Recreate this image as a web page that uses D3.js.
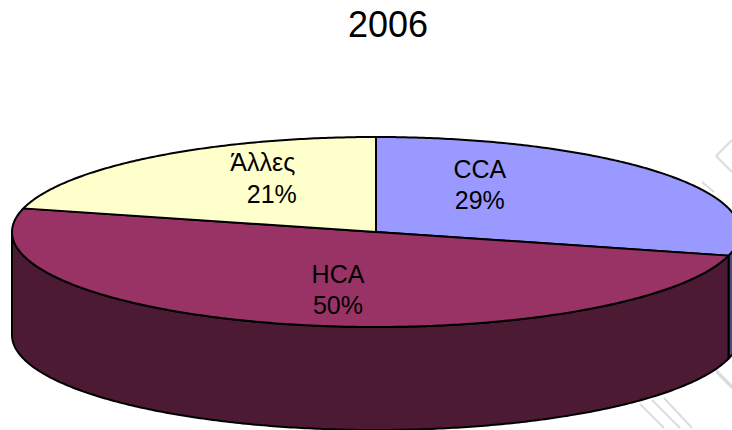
<!DOCTYPE html>
<html>
<head>
<meta charset="utf-8">
<script src="https://cdn.jsdelivr.net/npm/d3@7"></script>
<style>
  body { margin: 0; background: #fff; }
  svg { display: block; font-family: "Liberation Sans", Arial, sans-serif; }
</style>
</head>
<body>
<svg id="chart" width="732" height="430"></svg>
<script>
// Data
var title = "2006";
var categories = ["CCA", "HCA", "Άλλες"];
var values = [29, 50, 21];
var topColors = ["#9999FF", "#993366", "#FFFFCC"];
var sideColors = ["#4D4D80", "#4D1A33", "#80805F"];

// Layout
var W = 732, H = 430;
var cx = 376, cy = 232, rx = 364, ry = 95, depth = 103;
// small per-label nudges (px) so labels sit where the original put them
var labelNudge = [[-17, -10], [0, -13], [-15, -4]];
// extra x shift of the percent line (the original offsets it under "Άλλες")
var pctShift = [0, 0, 9];

var svg = d3.select("#chart");

// faint watermark strokes on the right
var wm = svg.append("g").attr("class", "watermark")
  .attr("stroke", "#dcdcdc").attr("stroke-width", 2).attr("fill", "none");
[[716, 156, 732, 140], [716, 156, 732, 172], [702, 182, 714, 192], [708, 362, 732, 386],
 [716, 372, 732, 388], [640, 404, 664, 428], [652, 400, 680, 428], [664, 398, 692, 428]].forEach(function (l) {
  wm.append("line").attr("x1", l[0]).attr("y1", l[1]).attr("x2", l[2]).attr("y2", l[3]);
});

// Title
svg.append("text")
  .attr("x", 388).attr("y", 37)
  .attr("text-anchor", "middle")
  .attr("font-size", 36)
  .attr("fill", "#000")
  .text(title);

// Pie angles (0 = 12 o'clock, clockwise)
var pie = d3.pie().sort(null).startAngle(0).endAngle(2 * Math.PI);
var arcs = pie(values);

var px = function (a) { return cx + rx * Math.sin(a); };
var py = function (a, dy) { return cy - ry * Math.cos(a) + (dy || 0); };

var steps = function (a0, a1) {
  var n = Math.max(2, Math.ceil(Math.abs(a1 - a0) / 0.01));
  return d3.range(n + 1).map(function (i) { return a0 + (a1 - a0) * i / n; });
};

// Side walls (only the front half, PI/2 .. 3PI/2)
var sides = svg.append("g").attr("class", "sides");
arcs.forEach(function (d, i) {
  var a0 = Math.max(d.startAngle, Math.PI / 2);
  var a1 = Math.min(d.endAngle, 3 * Math.PI / 2);
  if (a1 <= a0) return;
  var p = d3.path();
  var top = steps(a0, a1);
  p.moveTo(px(a0), py(a0));
  top.forEach(function (a) { p.lineTo(px(a), py(a)); });
  p.lineTo(px(a1), py(a1, depth));
  top.slice().reverse().forEach(function (a) { p.lineTo(px(a), py(a, depth)); });
  p.closePath();
  sides.append("path")
    .attr("d", p.toString())
    .attr("fill", sideColors[i])
    .attr("stroke", "#000")
    .attr("stroke-width", 2)
    .attr("stroke-linejoin", "round");
});

// Top faces
var tops = svg.append("g").attr("class", "tops");
arcs.forEach(function (d, i) {
  var p = d3.path();
  p.moveTo(cx, cy);
  steps(d.startAngle, d.endAngle).forEach(function (a) { p.lineTo(px(a), py(a)); });
  p.closePath();
  tops.append("path")
    .attr("d", p.toString())
    .attr("fill", topColors[i])
    .attr("stroke", "#000")
    .attr("stroke-width", 2)
    .attr("stroke-linejoin", "round");
});

// Labels
var total = d3.sum(values);
var labels = svg.append("g").attr("class", "labels")
  .attr("font-size", 25).attr("fill", "#000").attr("text-anchor", "middle");
arcs.forEach(function (d, i) {
  var m = (d.startAngle + d.endAngle) / 2;
  var lx = cx + rx * 0.42 * Math.sin(m) + labelNudge[i][0];
  var ly = cy - ry * 0.72 * Math.cos(m) + labelNudge[i][1];
  var t = labels.append("text").attr("x", lx).attr("y", ly);
  t.append("tspan").attr("x", lx - pctShift[i] / 2).attr("dy", "-0.1em").text(categories[i]);
  t.append("tspan").attr("x", lx + pctShift[i] / 2).attr("dy", "1.25em").text(Math.round(values[i] / total * 100) + "%");
});
</script>
</body>
</html>
